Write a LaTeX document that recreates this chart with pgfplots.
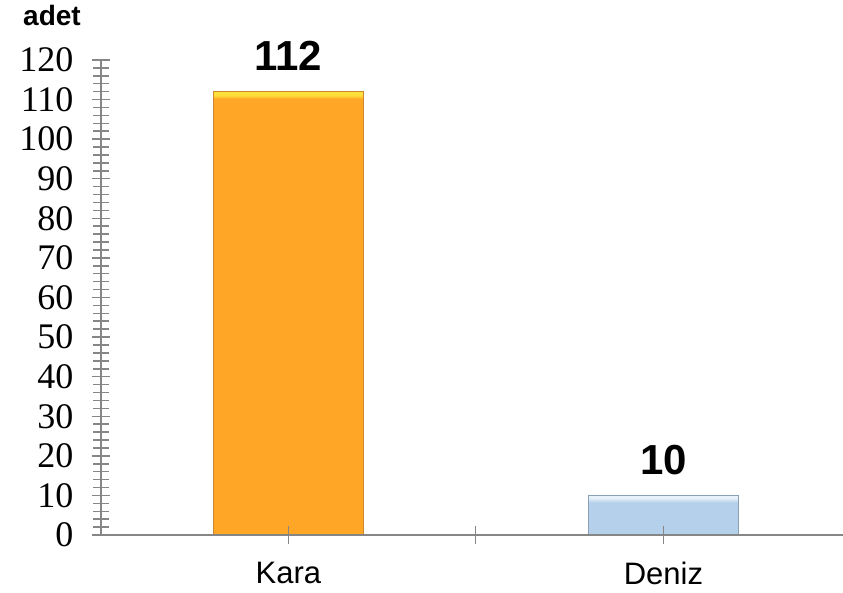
\documentclass[border=0pt]{standalone}
\usepackage{fontspec}
\setmainfont{Liberation Serif}
\newfontfamily\arial{Liberation Sans}
\usepackage{pgfplots}
\pgfplotsset{compat=1.18}
\definecolor{karaor}{RGB}{255,166,38}
\definecolor{karayel}{RGB}{255,225,60}
\definecolor{karaedge}{RGB}{205,135,45}
\definecolor{denizbl}{RGB}{181,208,234}
\definecolor{denizhl}{RGB}{232,242,251}
\definecolor{denizedge}{RGB}{140,160,180}
\definecolor{axgray}{RGB}{134,134,134}
\pgfdeclareverticalshading{karashade}{100bp}{color(0bp)=(karaor); color(74.2bp)=(karaor); color(74.6bp)=(karayel); color(100bp)=(karayel)}
\pgfdeclareverticalshading{denizshade}{100bp}{color(0bp)=(denizbl); color(66bp)=(denizbl); color(72bp)=(denizhl); color(100bp)=(denizhl)}
\begin{document}
\begin{tikzpicture}
\useasboundingbox (0,0) rectangle (843pt,592pt);
\begin{axis}[
  at={(101pt,57pt)}, anchor=south west,
  scale only axis, width=742pt, height=475pt,
  xmin=-0.5, xmax=1.479, ymin=0, ymax=120,
  axis x line*=bottom, axis y line*=left,
  axis line style={draw=axgray, line width=1.5pt},
  axis on top, clip=false,
  ytick={0,10,...,120}, minor y tick num=4,
  xtick={0,0.5,1}, xticklabels={Kara,,Deniz},
  tick align=center,
  major tick length=18pt, minor tick length=15pt,
  every tick/.style={draw=axgray, line width=1.5pt},
  x tick style={line width=1pt},
  /pgf/number format/assume math mode=true,
  yticklabel style={font=\fontsize{36}{36}\selectfont, xshift=-15pt},
  xticklabel style={font=\arial\fontsize{31}{31}\selectfont, yshift=-15pt},
  nodes near coords,
  every node near coord/.append style={font=\arial\bfseries\fontsize{42}{42}\selectfont, anchor=base, yshift=21pt, inner sep=0pt, text=black},
]
\addplot[ybar, bar width=0.4, bar shift=0pt, draw=karaedge, line width=1pt, shading=karashade] coordinates {(0,112)};
\addplot[ybar, bar width=0.4, bar shift=0pt, draw=denizedge, line width=1pt, shading=denizshade] coordinates {(1,10)};
\end{axis}
\node[anchor=base west, inner sep=0pt, font=\arial\bfseries\fontsize{28}{28}\selectfont] at (23pt,566pt) {adet};
\end{tikzpicture}
\end{document}
